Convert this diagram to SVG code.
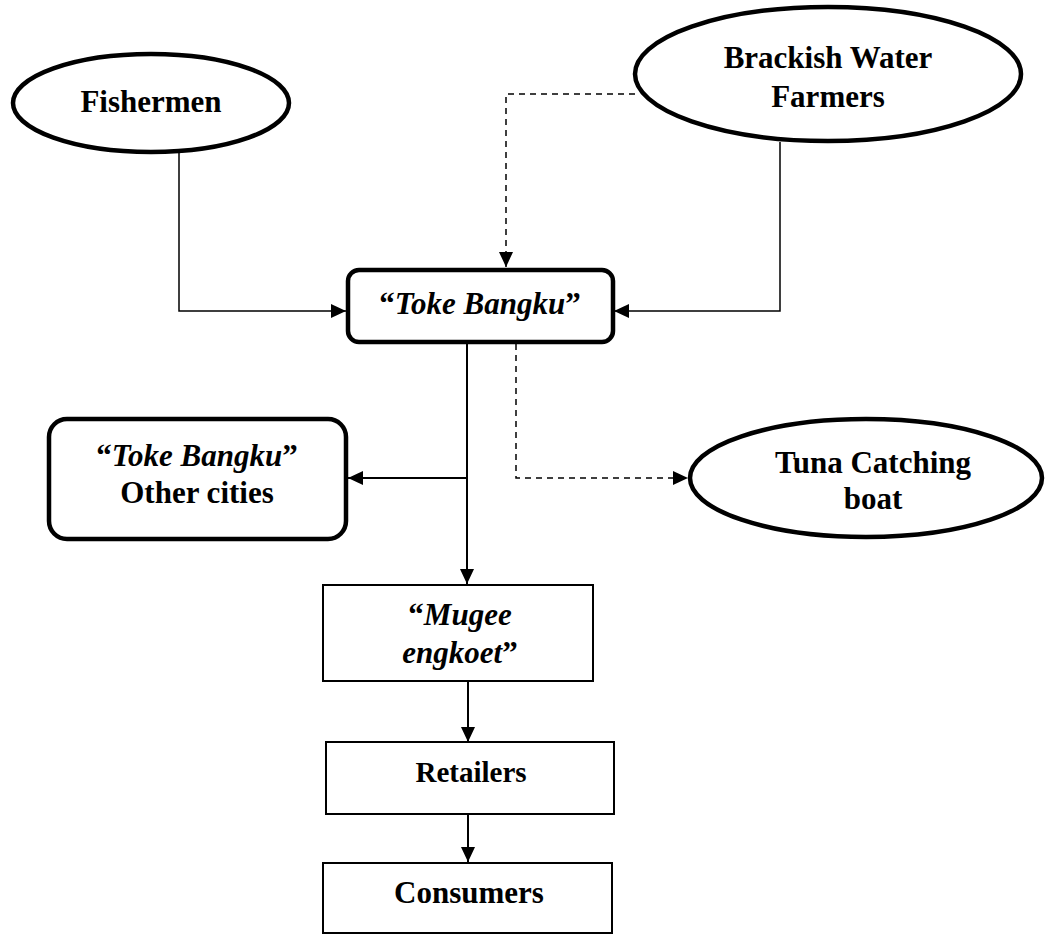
<svg xmlns="http://www.w3.org/2000/svg" width="1046" height="935" viewBox="0 0 1046 935">
<style>
text{font-family:"Liberation Serif","Times New Roman",serif;font-weight:bold;fill:#000;text-anchor:middle}
.big{font-size:31px}
.mid{font-size:29px}
.it{font-style:italic}
.thick{fill:#fff;stroke:#000;stroke-width:4.5}
.thin{fill:#fff;stroke:#000;stroke-width:2}
.ln{fill:none;stroke:#000;stroke-width:1.5}
.ln2{fill:none;stroke:#000;stroke-width:2}
.dash{fill:none;stroke:#000;stroke-width:1.5;stroke-dasharray:6,5}
</style>
<defs>
<marker id="ah" markerWidth="16" markerHeight="16" refX="15" refY="8" orient="auto" markerUnits="userSpaceOnUse">
<path d="M0,1 L15,8 L0,15 z" fill="#000"/>
</marker>
</defs>
<rect width="1046" height="935" fill="#fff"/>
<g id="connectors">
<path class="ln" d="M179,141 V311 H346" marker-end="url(#ah)"/>
<path class="ln" d="M780,142 V311 H614" marker-end="url(#ah)"/>
<path class="dash" d="M635,94 H506 V267" marker-end="url(#ah)"/>
<path class="ln2" d="M467,344 V584" marker-end="url(#ah)"/>
<path class="ln2" d="M467,478 H348" marker-end="url(#ah)"/>
<path class="dash" d="M516,344 V478 H688" marker-end="url(#ah)"/>
<path class="ln2" d="M468,682 V742" marker-end="url(#ah)"/>
<path class="ln2" d="M468,815 V862" marker-end="url(#ah)"/>
</g>
<g id="fishermen">
<ellipse class="thick" cx="151" cy="103" rx="138" ry="49"/>
<text class="big" x="151" y="112">Fishermen</text>
</g>
<g id="brackish">
<ellipse class="thick" cx="828" cy="74" rx="193" ry="67"/>
<text class="big" x="828" y="68">Brackish Water</text>
<text class="big" x="828" y="107">Farmers</text>
</g>
<g id="toke">
<rect class="thick" x="348" y="270" width="265" height="72" rx="11"/>
<text class="big" x="480" y="314">“<tspan class="it">Toke Bangku</tspan>”</text>
</g>
<g id="toke-other">
<rect class="thick" x="49" y="419" width="297" height="120" rx="18"/>
<text class="big" x="197" y="466">“<tspan class="it">Toke Bangku</tspan>”</text>
<text class="big" x="197" y="503">Other cities</text>
</g>
<g id="tuna">
<ellipse class="thick" cx="866" cy="478" rx="176" ry="59"/>
<text class="big" x="873" y="473">Tuna Catching</text>
<text class="big" x="873" y="509">boat</text>
</g>
<g id="mugee">
<rect class="thin" x="323" y="585" width="270" height="96"/>
<text class="big" x="460" y="625">“<tspan class="it">Mugee</tspan></text>
<text class="big" x="460" y="663"><tspan class="it">engkoet</tspan>”</text>
</g>
<g id="retailers">
<rect class="thin" x="326" y="742" width="288" height="72"/>
<text class="mid" x="471" y="782">Retailers</text>
</g>
<g id="consumers">
<rect class="thin" x="323" y="863" width="289" height="70"/>
<text class="big" x="469" y="903">Consumers</text>
</g>
</svg>
